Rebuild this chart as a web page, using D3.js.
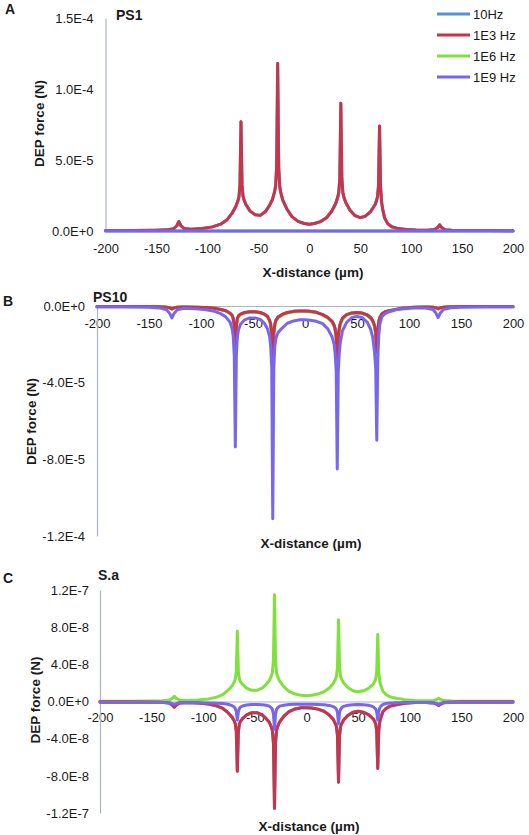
<!DOCTYPE html>
<html><head><meta charset="utf-8">
<script src="https://cdn.jsdelivr.net/npm/d3@7"></script>
<style>
body{margin:0;background:#fff}
text{font-family:"Liberation Sans",Arial,sans-serif;fill:#1a1a1a}
</style>
</head><body>
<svg id="chart" width="529" height="835"></svg>
<script>
// ---------- data ----------
const seriesNames = ["10Hz", "1E3 Hz", "1E6 Hz", "1E9 Hz"];
const seriesColors = ["#4f94d6", "#c8354b", "#80e03c", "#7866ec"];
const drawOrder = [0, 2, 1, 3];

const xTicks = [-200, -150, -100, -50, 0, 50, 100, 150, 200];
const xTickLabels = ["-200", "-150", "-100", "-50", "0", "50", "100", "150", "200"];

// X-distance (µm) sample positions shared by the curves
const X = [-200,-175,-150,-140,-133,-130,-128,-126,-123,-116,
  -105,-95,-87,-81,-76,-72,-70,-69,-68,-67,
  -66,-65,-64,-62,-58,-53,-48,-43,-39,-36,
  -34,-33,-32,-31,-30,-29,-28,-26,-22,-17,
  -11,-5,0,5,11,17,22,26,28,29,
  30,31,32,33,34,36,40,45,50,55,
  60,63,65,66,67,68,69,70,71,72,
  74,77,81,87,95,105,116,123,126,128,
  130,133,140,150,175,200];
const flatX = [-200, 200];
const flatZero = [0, 0];

// Panel A (PS1), values in units of 1E-5 N
const yTicksA = [0, 5, 10, 15];
const yTickLabelsA = ["0.0E+0", "5.0E-5", "1.0E-4", "1.5E-4"];
const redA = [0.03,0.04,0.06,0.08,0.16,0.37,0.67,0.37,0.18,0.13,
  0.18,0.29,0.48,0.77,1.22,1.74,2.13,2.41,3.27,7.7,
  3.3,2.45,2.17,1.84,1.4,1.14,1.1,1.37,1.8,2.24,
  2.77,3.18,4.55,11.8,4.52,3.15,2.72,2.18,1.55,1.01,
  0.68,0.53,0.48,0.53,0.66,0.93,1.39,1.94,2.39,2.71,
  3.73,9.0,3.72,2.7,2.38,1.98,1.46,1.08,0.94,1.04,
  1.35,1.67,1.9,2.15,2.41,3.22,7.4,3.1,2.06,1.56,
  0.91,0.52,0.3,0.17,0.1,0.07,0.06,0.1,0.24,0.44,
  0.24,0.09,0.05,0.04,0.03,0.02];

// Panel B (PS10), values in units of 1E-5 N
const yTicksB = [0, -4, -8, -12];
const yTickLabelsB = ["0.0E+0", "-4.0E-5", "-8.0E-5", "-1.2E-4"];
const redB = [-0.02,-0.02,-0.03,-0.04,-0.06,-0.1,-0.15,-0.1,-0.06,-0.05,
  -0.06,-0.08,-0.12,-0.18,-0.25,-0.38,-0.5,-0.65,-1.0,-2.2,
  -1.0,-0.65,-0.52,-0.42,-0.34,-0.3,-0.3,-0.34,-0.42,-0.55,
  -0.75,-0.95,-1.4,-2.7,-1.4,-0.95,-0.75,-0.58,-0.44,-0.34,
  -0.28,-0.26,-0.26,-0.28,-0.33,-0.45,-0.6,-0.8,-1.0,-1.2,
  -1.6,-2.8,-1.6,-1.15,-0.9,-0.65,-0.45,-0.36,-0.34,-0.37,
  -0.47,-0.6,-0.75,-0.88,-1.05,-1.4,-2.4,-1.3,-0.8,-0.6,
  -0.4,-0.3,-0.25,-0.18,-0.1,-0.07,-0.05,-0.06,-0.1,-0.14,
  -0.1,-0.06,-0.04,-0.03,-0.02,-0.02];
const greenB = [-0.02,-0.02,-0.03,-0.04,-0.06,-0.11,-0.16,-0.11,-0.06,-0.05,
  -0.06,-0.09,-0.13,-0.19,-0.27,-0.4,-0.53,-0.69,-1.06,-2.3,
  -1.06,-0.69,-0.55,-0.45,-0.36,-0.32,-0.32,-0.36,-0.45,-0.58,
  -0.8,-1.0,-1.48,-2.85,-1.48,-1.0,-0.8,-0.62,-0.47,-0.36,
  -0.3,-0.28,-0.28,-0.3,-0.35,-0.48,-0.64,-0.85,-1.06,-1.27,
  -1.7,-2.95,-1.7,-1.22,-0.95,-0.69,-0.48,-0.38,-0.36,-0.39,
  -0.5,-0.64,-0.8,-0.93,-1.11,-1.48,-2.5,-1.38,-0.85,-0.64,
  -0.42,-0.32,-0.27,-0.19,-0.11,-0.07,-0.05,-0.06,-0.11,-0.15,
  -0.11,-0.06,-0.04,-0.03,-0.02,-0.02];
const purpleB = [-0.05,-0.05,-0.07,-0.1,-0.2,-0.4,-0.62,-0.4,-0.2,-0.12,
  -0.15,-0.2,-0.28,-0.4,-0.58,-0.85,-1.2,-1.6,-2.6,-7.35,
  -2.6,-1.6,-1.25,-0.95,-0.72,-0.62,-0.62,-0.7,-0.9,-1.2,
  -1.6,-2.1,-3.2,-11.1,-3.2,-2.1,-1.7,-1.4,-1.15,-0.9,
  -0.78,-0.72,-0.72,-0.74,-0.8,-0.92,-1.2,-1.6,-2.0,-2.5,
  -3.4,-8.5,-3.4,-2.4,-1.9,-1.3,-0.85,-0.6,-0.55,-0.6,
  -0.85,-1.2,-1.6,-2.0,-2.5,-3.3,-7.0,-2.8,-1.5,-0.95,
  -0.55,-0.4,-0.3,-0.2,-0.14,-0.1,-0.1,-0.18,-0.38,-0.6,
  -0.38,-0.18,-0.09,-0.06,-0.05,-0.05];

// Panel C (S.a), values in units of 1E-8 N
const yTicksC = [12, 8, 4, 0, -4, -8, -12];
const yTickLabelsC = ["1.2E-7", "8.0E-8", "4.0E-8", "0.0E+0", "-4.0E-8", "-8.0E-8", "-1.2E-7"];
const redC = [-0.03,-0.04,-0.06,-0.08,-0.17,-0.38,-0.62,-0.38,-0.17,-0.12,
  -0.17,-0.28,-0.47,-0.75,-1.2,-1.7,-2.1,-2.4,-3.2,-7.5,
  -3.25,-2.4,-2.15,-1.85,-1.45,-1.2,-1.2,-1.45,-1.85,-2.25,
  -2.75,-3.15,-4.5,-11.5,-4.45,-3.1,-2.7,-2.2,-1.6,-1.1,
  -0.8,-0.68,-0.66,-0.7,-0.82,-1.05,-1.45,-1.95,-2.4,-2.7,
  -3.7,-8.7,-3.7,-2.7,-2.4,-2.0,-1.5,-1.15,-1.05,-1.15,
  -1.4,-1.7,-1.92,-2.15,-2.4,-3.2,-7.2,-3.1,-2.15,-1.75,
  -1.1,-0.75,-0.5,-0.35,-0.2,-0.12,-0.1,-0.15,-0.28,-0.42,
  -0.28,-0.12,-0.05,-0.04,-0.03,-0.02];
const greenC = [0.03,0.04,0.06,0.08,0.15,0.33,0.55,0.33,0.16,0.12,
  0.17,0.28,0.47,0.75,1.2,1.7,2.1,2.4,3.2,7.6,
  3.25,2.4,2.15,1.85,1.45,1.2,1.2,1.45,1.85,2.25,
  2.75,3.15,4.5,11.5,4.45,3.1,2.7,2.2,1.6,1.1,
  0.8,0.66,0.62,0.68,0.8,1.05,1.45,1.95,2.4,2.7,
  3.7,8.8,3.7,2.7,2.4,2.0,1.5,1.15,1.05,1.15,
  1.4,1.7,1.92,2.15,2.4,3.2,7.2,3.1,2.15,1.75,
  1.1,0.75,0.5,0.35,0.2,0.12,0.08,0.12,0.22,0.35,
  0.22,0.1,0.05,0.04,0.03,0.02];
const purpleC = [-0.1,-0.1,-0.1,-0.11,-0.14,-0.22,-0.32,-0.22,-0.14,-0.12,
  -0.13,-0.15,-0.18,-0.22,-0.3,-0.45,-0.6,-0.75,-1.1,-2.0,
  -1.1,-0.75,-0.6,-0.48,-0.38,-0.33,-0.32,-0.35,-0.4,-0.5,
  -0.68,-0.85,-1.4,-3.0,-1.4,-0.85,-0.68,-0.5,-0.4,-0.33,
  -0.3,-0.3,-0.3,-0.3,-0.32,-0.36,-0.42,-0.55,-0.7,-0.85,
  -1.2,-2.4,-1.2,-0.85,-0.68,-0.52,-0.4,-0.34,-0.33,-0.35,
  -0.4,-0.5,-0.6,-0.7,-0.82,-1.1,-2.0,-1.05,-0.7,-0.5,
  -0.32,-0.22,-0.17,-0.14,-0.12,-0.11,-0.11,-0.13,-0.2,-0.3,
  -0.2,-0.13,-0.11,-0.1,-0.1,-0.1];

// ---------- layout ----------
const panels = [
  { letter: "A", name: "PS1", xr: [105.5, 513], yd: [0, 15], yr: [231, 18],
    yTicks: yTicksA, yLabels: yTickLabelsA, xPad: 12.3, yPad: 12,
    letterPos: [5, 14], namePos: [116, 20], xTitle: [313, 277], yTitle: [39, 123.5],
    series: [[X, redA], [X, redA], [flatX, flatZero], [flatX, flatZero]] },
  { letter: "B", name: "PS10", xr: [97, 513], yd: [-12, 0], yr: [536, 306],
    yTicks: yTicksB, yLabels: yTickLabelsB, xPad: 13, yPad: 12,
    letterPos: [3, 306], namePos: [93, 302], xTitle: [311, 548], yTitle: [31, 421.5],
    series: [[X, redB], [X, redB], [X, greenB], [X, purpleB]] },
  { letter: "C", name: "S.a", xr: [100, 513], yd: [-12, 12], yr: [813, 590],
    yTicks: yTicksC, yLabels: yTickLabelsC, xPad: 10.8, yPad: 11,
    letterPos: [3, 583], namePos: [98, 580], xTitle: [309, 831], yTitle: [35, 700],
    series: [[X, redC], [X, redC], [X, greenC], [X, purpleC]] }
];

const svg = d3.select("#chart");
const axisColor = "#a9b5c2";

panels.forEach(p => {
  const x = d3.scaleLinear().domain([-200, 200]).range(p.xr);
  const y = d3.scaleLinear().domain(p.yd).range(p.yr);
  const g = svg.append("g");

  const xAxis = d3.axisBottom(x).tickValues(xTicks)
    .tickFormat((d, i) => xTickLabels[i]).tickSize(0).tickPadding(p.xPad);
  const gx = g.append("g").attr("transform", `translate(0,${y(0)})`).call(xAxis);
  const yAxis = d3.axisLeft(y).tickValues(p.yTicks)
    .tickFormat((d, i) => p.yLabels[i]).tickSize(0).tickPadding(p.yPad);
  const gy = g.append("g").attr("transform", `translate(${x(-200)},0)`).call(yAxis);

  [gx, gy].forEach(a => {
    a.select(".domain").attr("stroke", axisColor).attr("stroke-width", 1.2);
    a.selectAll("text").attr("font-size", 13).attr("font-family", '"Liberation Sans",Arial,sans-serif').attr("fill", "#1a1a1a");
  });

  const line = d3.line().x(d => x(d[0])).y(d => y(d[1]));
  drawOrder.forEach(i => {
    const s = p.series[i];
    const pts = s[0].map((xv, k) => [xv, s[1][k]]);
    g.append("path").datum(pts).attr("d", line)
      .attr("fill", "none").attr("stroke", seriesColors[i])
      .attr("stroke-width", 3).attr("stroke-linejoin", "round").attr("stroke-linecap", "round");
  });

  g.append("text").attr("x", p.letterPos[0]).attr("y", p.letterPos[1])
    .attr("font-size", 14).attr("font-weight", "bold").text(p.letter);
  g.append("text").attr("x", p.namePos[0]).attr("y", p.namePos[1])
    .attr("font-size", 14).attr("font-weight", "bold").text(p.name);
  g.append("text").attr("x", p.xTitle[0]).attr("y", p.xTitle[1])
    .attr("text-anchor", "middle").attr("font-size", 13.5).attr("font-weight", "bold")
    .text("X-distance (µm)");
  g.append("text").attr("transform", `translate(${p.yTitle[0]},${p.yTitle[1]}) rotate(-90)`)
    .attr("text-anchor", "middle").attr("dy", "0.35em")
    .attr("font-size", 13.5).attr("font-weight", "bold").text("DEP force (N)");
});

// legend (panel A)
const leg = svg.append("g");
seriesNames.forEach((n, i) => {
  const yy = 14 + i * 21;
  leg.append("line").attr("x1", 437).attr("x2", 470).attr("y1", yy).attr("y2", yy)
    .attr("stroke", seriesColors[i]).attr("stroke-width", 3);
  leg.append("text").attr("x", 473).attr("y", yy + 4.6).attr("font-size", 13).text(n);
});
</script>
</body></html>
